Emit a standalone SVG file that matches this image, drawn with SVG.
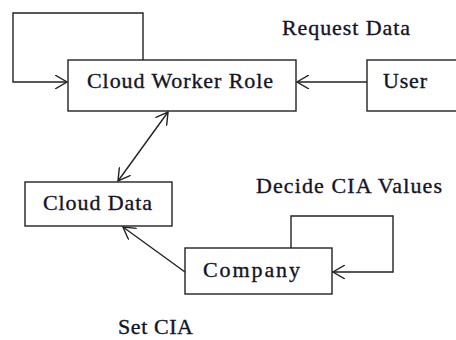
<svg xmlns="http://www.w3.org/2000/svg" width="456" height="340" viewBox="0 0 456 340">
  <style>
    .box { fill: #ffffff; stroke: #222222; stroke-width: 1.4; }
    .lbl { font-family: "Liberation Serif", "Times New Roman", serif; font-size: 22px; fill: #141428; stroke: #141428; stroke-width: 0.35; }
    .edge { fill: none; stroke: #222222; stroke-width: 1.4; }
  </style>
  <defs>
    <marker id="open" viewBox="0 0 13 14" refX="12" refY="7" markerWidth="13" markerHeight="14" markerUnits="userSpaceOnUse" orient="auto-start-reverse">
      <path d="M0,0 L12,7 L0,14" fill="none" stroke="#222222" stroke-width="1.4"/>
    </marker>
  </defs>
  <rect width="456" height="340" fill="#ffffff"/>

  <g id="connectors">
    <!-- worker role self-loop -->
    <path class="edge" d="M143,60 V13 H13 V82 H67" marker-end="url(#open)"/>
    <!-- user to worker role -->
    <path class="edge" d="M367,82 H297" marker-end="url(#open)"/>
    <!-- worker role to cloud data, both ways -->
    <path class="edge" d="M168,112 L118,181" marker-start="url(#open)" marker-end="url(#open)"/>
    <!-- company to cloud data -->
    <path class="edge" d="M185,272 L123,227" marker-end="url(#open)"/>
    <!-- company self-loop -->
    <path class="edge" d="M291,248 V216 H393 V272 H333" marker-end="url(#open)"/>
  </g>

  <g id="cloud-worker-role">
    <rect class="box" x="68" y="60" width="228" height="51"/>
    <text class="lbl" x="87" y="88" textLength="186" lengthAdjust="spacing">Cloud Worker Role</text>
  </g>
  <g id="user">
    <rect class="box" x="367" y="60" width="95" height="51"/>
    <text class="lbl" x="383" y="88" textLength="44" lengthAdjust="spacing">User</text>
  </g>
  <g id="cloud-data">
    <rect class="box" x="25" y="182" width="147" height="44"/>
    <text class="lbl" x="43" y="210" textLength="109" lengthAdjust="spacing">Cloud Data</text>
  </g>
  <g id="company">
    <rect class="box" x="185" y="248" width="147" height="46"/>
    <text class="lbl" x="203" y="277" textLength="97" lengthAdjust="spacing">Company</text>
  </g>

  <g id="labels">
    <text class="lbl" x="282" y="35" textLength="128" lengthAdjust="spacing">Request Data</text>
    <text class="lbl" x="256" y="193" textLength="186" lengthAdjust="spacing">Decide CIA Values</text>
    <text class="lbl" x="118" y="334" textLength="75" lengthAdjust="spacing">Set CIA</text>
  </g>
</svg>
